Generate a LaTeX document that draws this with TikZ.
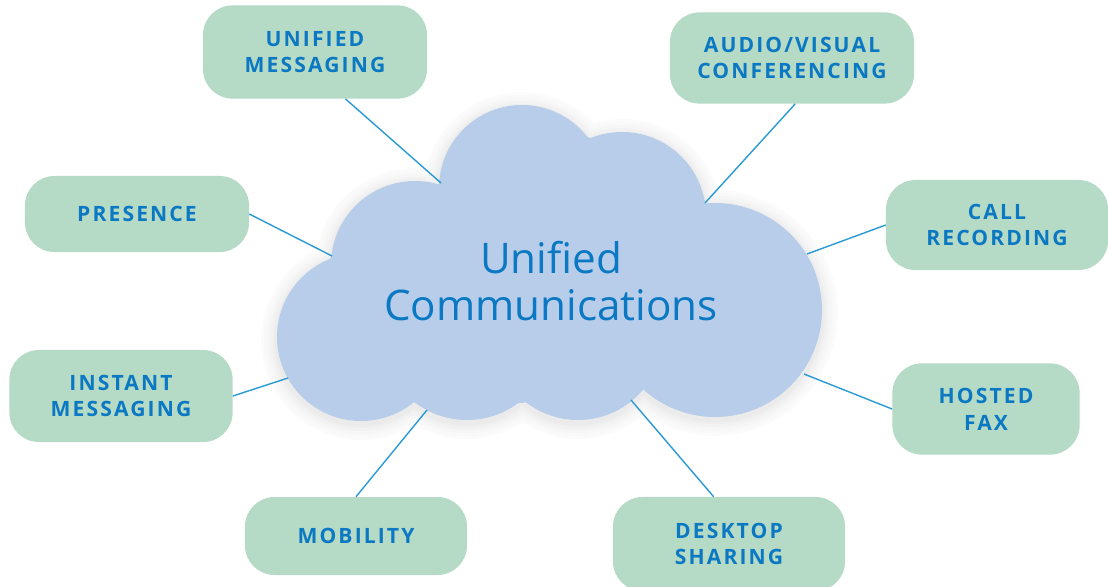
\documentclass[tikz,border=0pt]{standalone}
\usepackage{fontspec}
\setmainfont{Open Sans}
\newfontfamily\itemfont{Open Sans}[LetterSpace=10]
\usetikzlibrary{calc}

\definecolor{boxgreen}{HTML}{B5DAC5}
\definecolor{cloudblue}{HTML}{B8CDE9}
\definecolor{textblue}{HTML}{0A78C2}
\definecolor{linkblue}{HTML}{2A9AD5}

% circles of the cloud: x/y/radius, in pixels
\newcommand{\cloudparts}{415/265/84, 522/188/83, 622/216/84, 715/310/107, 578/335/85, 467/334/86, 361/337/84}

\begin{document}
\begin{tikzpicture}[x=0.025cm, y=-0.025cm,
  item/.style={fill=boxgreen, rounded corners=21pt, align=center, inner sep=0pt,
    text=textblue, font=\itemfont\bfseries\fontsize{15}{19}\selectfont},
  link/.style={linkblue, line width=1pt}]

\useasboundingbox (0,0) rectangle (1108,586);

% soft shadow round the cloud
\foreach \d/\c in {16/1.5, 13/2.5, 10/3.5, 7/5, 4/6.5, 2/8}{
  \foreach \cx/\cy/\r in \cloudparts
    \fill[black!\c] (\cx,\cy+3) circle[radius=\r+\d];
}

% the cloud
\foreach \cx/\cy/\r in \cloudparts
  \fill[cloudblue] (\cx,\cy) circle[radius=\r];
\fill[cloudblue] (441,183) -- (588,137) -- (702,200) -- (822,310) -- (636,392)
  -- (520,403) -- (415,402) -- (300,330) -- (331,257) -- cycle;

\node[text=textblue, align=center, font=\fontsize{30}{34}\selectfont] (uc) at (551,281)
  {Unified\\Communications};

% ends of the links on the cloud
\coordinate (c-um) at (441,183);
\coordinate (c-av) at (705,203);
\coordinate (c-pr) at (332,256);
\coordinate (c-cr) at (807,254);
\coordinate (c-im) at (288,378);
\coordinate (c-hf) at (804,374);
\coordinate (c-mo) at (427,410);
\coordinate (c-ds) at (631,400);

% the boxes
\node[item, minimum width=5.6cm, minimum height=2.33cm] (um) at (315,52) {UNIFIED\\MESSAGING};
\node[item, minimum width=6.1cm, minimum height=2.28cm] (av) at (792,58) {AUDIO/VISUAL\\CONFERENCING};
\node[item, minimum width=5.6cm, minimum height=1.9cm] (pr) at (137,214) {PRESENCE};
\node[item, minimum width=5.55cm, minimum height=2.25cm] (cr) at (997,225) {CALL\\RECORDING};
\node[item, minimum width=5.58cm, minimum height=2.3cm] (im) at (121,396) {INSTANT\\MESSAGING};
\node[item, minimum width=4.68cm, minimum height=2.28cm] (hf) at (986,409) {HOSTED\\FAX};
\node[item, minimum width=5.55cm, minimum height=1.95cm] (mo) at (356,536) {MOBILITY};
\node[item, minimum width=5.8cm, minimum height=2.35cm] (ds) at (729,544) {DESKTOP\\SHARING};

% links
\draw[link] (um.-57) -- (c-um);
\draw[link] (av.-86) -- (c-av);
\draw[link] (pr.east) -- (c-pr);
\draw[link] (cr.west) -- (c-cr);
\draw[link] (im.east) -- (c-im);
\draw[link] (hf.west) -- (c-hf);
\draw[link] (mo.north) -- (c-mo);
\draw[link] (ds.108) -- (c-ds);

\end{tikzpicture}
\end{document}
